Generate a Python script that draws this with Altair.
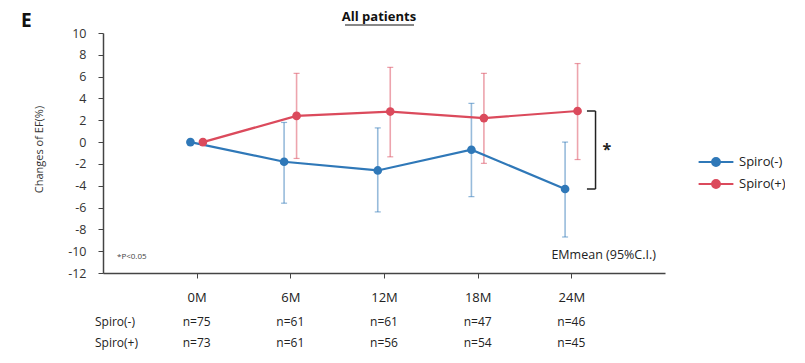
import altair as alt
import pandas as pd

months = [0, 6, 12, 18, 24]
month_labels = ["0M", "6M", "12M", "18M", "24M"]
groups = ["Spiro(-)", "Spiro(+)"]
y_ticks = [-12, -10, -8, -6, -4, -2, 0, 2, 4, 6, 8, 10]

minus_mean = [0.0, -1.8, -2.6, -0.7, -4.3]
minus_lo = [None, -5.6, -6.4, -5.0, -8.7]
minus_hi = [None, 1.8, 1.3, 3.55, 0.0]

plus_mean = [0.0, 2.4, 2.8, 2.2, 2.85]
plus_lo = [None, -1.5, -1.35, -1.95, -1.6]
plus_hi = [None, 6.3, 6.85, 6.3, 7.2]

n_minus = [75, 61, 61, 47, 46]
n_plus = [73, 61, 56, 54, 45]

colors = ["#2F78B8", "#DB4A5C"]
FONT = "Open Sans"

rows = []
for g, means, los, his in [
    ("Spiro(-)", minus_mean, minus_lo, minus_hi),
    ("Spiro(+)", plus_mean, plus_lo, plus_hi),
]:
    for m, v, lo, hi in zip(months, means, los, his):
        rows.append({"group": g, "month": m, "mean": v, "lo": lo, "hi": hi})
df = pd.DataFrame(rows)

n_rows = []
for m, a, b in zip(months, n_minus, n_plus):
    n_rows.append({"month": m, "nm": f"n={a}", "np": f"n={b}"})
ndf = pd.DataFrame(n_rows)

xscale = alt.Scale(domain=[-6, 30], nice=False, zero=False)
yscale = alt.Scale(domain=[-12, 10], nice=False, zero=False)
cscale = alt.Scale(domain=groups, range=colors)

x_axis = alt.Axis(
    values=months,
    tickCount=20,
    labelExpr="datum.value + 'M'",
    title=None,
    grid=False,
    domainColor="#444",
    domainWidth=1.5,
    tickColor="#444",
    tickSize=5,
    labelPadding=13,
    labelFontSize=13,
    labelFont=FONT,
    labelColor="#222",
    labelOverlap=False,
)
y_axis = alt.Axis(
    values=y_ticks,
    tickCount=30,
    labelExpr="'' + datum.value",
    labelOverlap=False,
    labelBound=False,
    title="Changes of EF(%)",
    titleFont=FONT,
    titleFontSize=11,
    titleFontWeight="normal",
    titleColor="#333",
    titleAngle=-90,
    titleX=-64,
    titleY=116,
    titleAlign="center",
    titleBaseline="middle",
    grid=False,
    domainColor="#444",
    domainWidth=1.5,
    tickColor="#444",
    tickSize=5,
    labelPadding=12,
    labelFontSize=12.5,
    labelFont=FONT,
    labelColor="#333",
)

leg = alt.Legend(
    title=None,
    orient="none",
    legendX=604,
    legendY=120,
    symbolType="M-2.2,0L-0.5,0M0.5,0L2.2,0M-0.5,0A0.5,0.5,0,1,1,0.5,0A0.5,0.5,0,1,1,-0.5,0Z",
    symbolSize=250,
    symbolStrokeWidth=2,
    symbolOpacity=1,
    labelFont=FONT,
    labelFontSize=13,
    labelColor="#222",
    rowPadding=5,
    labelOffset=14,
)

color_enc = alt.Color("group:N", scale=cscale, legend=leg)

base = alt.Chart(df).transform_calculate(
    xp="datum.month + (datum.group == 'Spiro(-)' ? -0.4 : 0.4)"
)

def X(field):
    return alt.X(field, scale=xscale, axis=x_axis)

def Y(field):
    return alt.Y(field, scale=yscale, axis=y_axis)

errbars = base.transform_filter("datum.lo != null").mark_rule(
    strokeWidth=1.6, opacity=0.5
).encode(x=X("xp:Q"), y=Y("lo:Q"), y2="hi:Q", color=color_enc)

caps_lo = base.transform_filter("datum.lo != null").mark_tick(
    orient="horizontal", size=6, thickness=1.2, opacity=0.55
).encode(x=X("xp:Q"), y=Y("lo:Q"), color=color_enc)

caps_hi = base.transform_filter("datum.lo != null").mark_tick(
    orient="horizontal", size=6, thickness=1.2, opacity=0.55
).encode(x=X("xp:Q"), y=Y("hi:Q"), color=color_enc)

lines = base.mark_line(strokeWidth=2.2).encode(
    x=X("xp:Q"), y=Y("mean:Q"), color=color_enc
)

points = base.mark_point(filled=True, size=75, opacity=1).encode(
    x=X("xp:Q"), y=Y("mean:Q"), color=color_enc
)

# significance bracket
bdf = pd.DataFrame({"x": [25.55], "y1": [minus_mean[-1]], "y2": [plus_mean[-1]]})
bracket_v = alt.Chart(bdf).mark_rule(color="#222", strokeWidth=1.5).encode(
    x=X("x:Q"), y=Y("y1:Q"), y2="y2:Q"
)
bracket_top = alt.Chart(bdf).mark_rule(color="#222", strokeWidth=1.5).encode(
    x=X("x:Q"), x2=alt.datum(25.0), y=Y("y2:Q")
)
bracket_bot = alt.Chart(bdf).mark_rule(color="#222", strokeWidth=1.5).encode(
    x=X("x:Q"), x2=alt.datum(25.0), y=Y("y1:Q")
)
star = alt.Chart(bdf).mark_text(
    text="*", fontSize=16, font=FONT, fontWeight="bold", color="#222", align="left"
).encode(x=alt.datum(26.0), y=alt.datum(-0.7))

# annotations
ptext = alt.Chart(bdf).mark_text(
    text="*P<0.05", fontSize=8, font=FONT, color="#444", align="left", baseline="middle"
).encode(x=alt.value(14), y=alt.value(224))
emtext = alt.Chart(bdf).mark_text(
    text="EMmean (95%C.I.)", fontSize=12.5, font=FONT, color="#222", align="right", baseline="middle"
).encode(x=alt.value(553), y=alt.value(222))

title = alt.Chart(bdf).mark_text(
    text="All patients", fontSize=13, font=FONT, fontWeight="bold", color="#111", baseline="middle"
).encode(x=alt.value(276), y=alt.value(-16))
underline = alt.Chart(bdf).mark_rule(color="#111", strokeWidth=1.2).encode(
    x=alt.value(242), x2=alt.value(311), y=alt.value(-8)
)
panel = alt.Chart(bdf).mark_text(
    text="E", fontSize=19, font=FONT, fontWeight="bold", color="#111", align="left", baseline="middle"
).encode(x=alt.value(-82), y=alt.value(-12))

# n counts below axis
nm_text = alt.Chart(ndf).mark_text(fontSize=12, font=FONT, color="#222").encode(
    x=X("month:Q"), y=alt.value(289), text="nm:N"
)
np_text = alt.Chart(ndf).mark_text(fontSize=12, font=FONT, color="#222").encode(
    x=X("month:Q"), y=alt.value(310), text="np:N"
)
lab_m = alt.Chart(bdf).mark_text(
    text="Spiro(-)", fontSize=12, font=FONT, color="#222", align="left"
).encode(x=alt.value(-8), y=alt.value(289))
lab_p = alt.Chart(bdf).mark_text(
    text="Spiro(+)", fontSize=12, font=FONT, color="#222", align="left"
).encode(x=alt.value(-8), y=alt.value(310))

chart = alt.layer(
    errbars, caps_lo, caps_hi, lines, points,
    bracket_v, bracket_top, bracket_bot, star,
    ptext, emtext, title, underline, panel,
    nm_text, np_text, lab_m, lab_p,
).properties(
    width=562,
    height=240,
    padding={"left": 95, "top": 25, "right": 120, "bottom": 80},
    autosize=alt.AutoSizeParams(type="none"),
    background="white",
).configure_view(strokeWidth=0)

chart.save("out.html", embed_options={"renderer": "svg", "actions": False})
